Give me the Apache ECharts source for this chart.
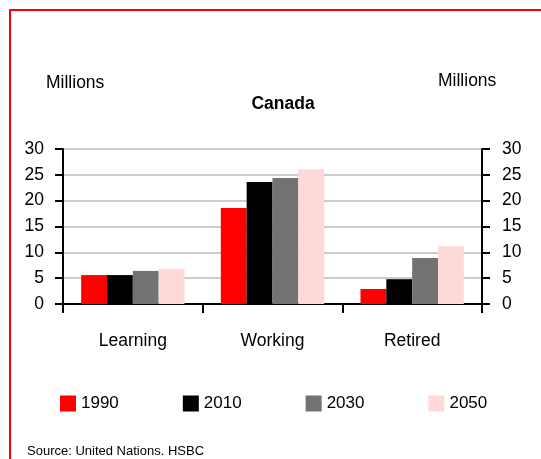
<!DOCTYPE html>
<html>
<head>
<meta charset="utf-8">
<script src="https://cdn.jsdelivr.net/npm/echarts@6/dist/echarts.min.js"></script>
<style>
html,body{margin:0;padding:0;background:#fff;}
#chart{width:541px;height:459px;}
</style>
</head>
<body>
<div id="chart"></div>
<script>
var categories = ['Learning', 'Working', 'Retired'];
var seriesNames = ['1990', '2010', '2030', '2050'];
var values1990 = [5.6, 18.6, 2.9];
var values2010 = [5.6, 23.6, 4.8];
var values2030 = [6.4, 24.4, 8.9];
var values2050 = [6.8, 26.1, 11.2];
var yTicks = [0, 5, 10, 15, 20, 25, 30];

var colors = ['#ff0000', '#000000', '#737373', '#ffd9d9'];
var allValues = [values1990, values2010, values2030, values2050];
var FONT = '"Liberation Sans", Arial, sans-serif';

var chart = echarts.init(document.getElementById('chart'), null, {renderer: 'canvas'});

var series = seriesNames.map(function (name, i) {
  return {
    name: name,
    type: 'bar',
    data: allValues[i],
    barGap: '0%',
    barCategoryGap: '26%',
    itemStyle: {color: colors[i]},
    silent: true
  };
});

var option = {
  animation: false,
  backgroundColor: '#fff',
  color: colors,
  title: {
    text: 'Canada',
    left: 278,
    textAlign: 'center',
    top: 90,
    textStyle: {fontFamily: FONT, fontWeight: 'bold', fontSize: 17.5, color: '#000'}
  },
  grid: {left: 63, right: 59, top: 149, bottom: 155, containLabel: false},
  legend: {
    data: seriesNames,
    left: 60,
    top: 395,
    padding: 0,
    itemWidth: 16,
    itemHeight: 16,
    itemGap: 64,
    icon: 'rect',
    textStyle: {fontFamily: FONT, fontSize: 17, color: '#000', padding: [0, 0, 0, 0]},
    selectedMode: false
  },
  xAxis: {
    type: 'category',
    data: categories,
    axisLine: {lineStyle: {color: '#000', width: 2}},
    axisTick: {show: true, length: 9, lineStyle: {color: '#000', width: 2}},
    axisLabel: {fontFamily: FONT, fontSize: 17.5, color: '#000', margin: 28}
  },
  yAxis: [
    {
      type: 'value', min: yTicks[0], max: yTicks[yTicks.length - 1], interval: 5,
      position: 'left',
      axisLine: {show: true, lineStyle: {color: '#000', width: 2}},
      axisTick: {show: true, length: 8, lineStyle: {color: '#000', width: 2}},
      axisLabel: {fontFamily: FONT, fontSize: 17.5, color: '#000', margin: 19},
      splitLine: {show: true, lineStyle: {color: '#cccccc', width: 2}}
    },
    {
      type: 'value', min: yTicks[0], max: yTicks[yTicks.length - 1], interval: 5,
      position: 'right',
      axisLine: {show: true, lineStyle: {color: '#000', width: 2}},
      axisTick: {show: true, length: 8, lineStyle: {color: '#000', width: 2}},
      axisLabel: {fontFamily: FONT, fontSize: 17.5, color: '#000', margin: 20},
      splitLine: {show: false}
    }
  ],
  series: series,
  graphic: [
    {type: 'rect', shape: {x: 9, y: 9, width: 532, height: 2}, style: {fill: '#ff0000'}, silent: true},
    {type: 'rect', shape: {x: 9, y: 9, width: 2, height: 450}, style: {fill: '#ff0000'}, silent: true},
    {type: 'text', left: 46, top: 74, style: {text: 'Millions', fontFamily: FONT, fontSize: 17.5, fill: '#000'}, silent: true},
    {type: 'text', left: 438, top: 72, style: {text: 'Millions', fontFamily: FONT, fontSize: 17.5, fill: '#000'}, silent: true},
    {type: 'text', left: 27, top: 445, style: {text: 'Source: United Nations. HSBC', fontFamily: FONT, fontSize: 13, fill: '#000'}, silent: true}
  ]
};

chart.setOption(option);
</script>
</body>
</html>
